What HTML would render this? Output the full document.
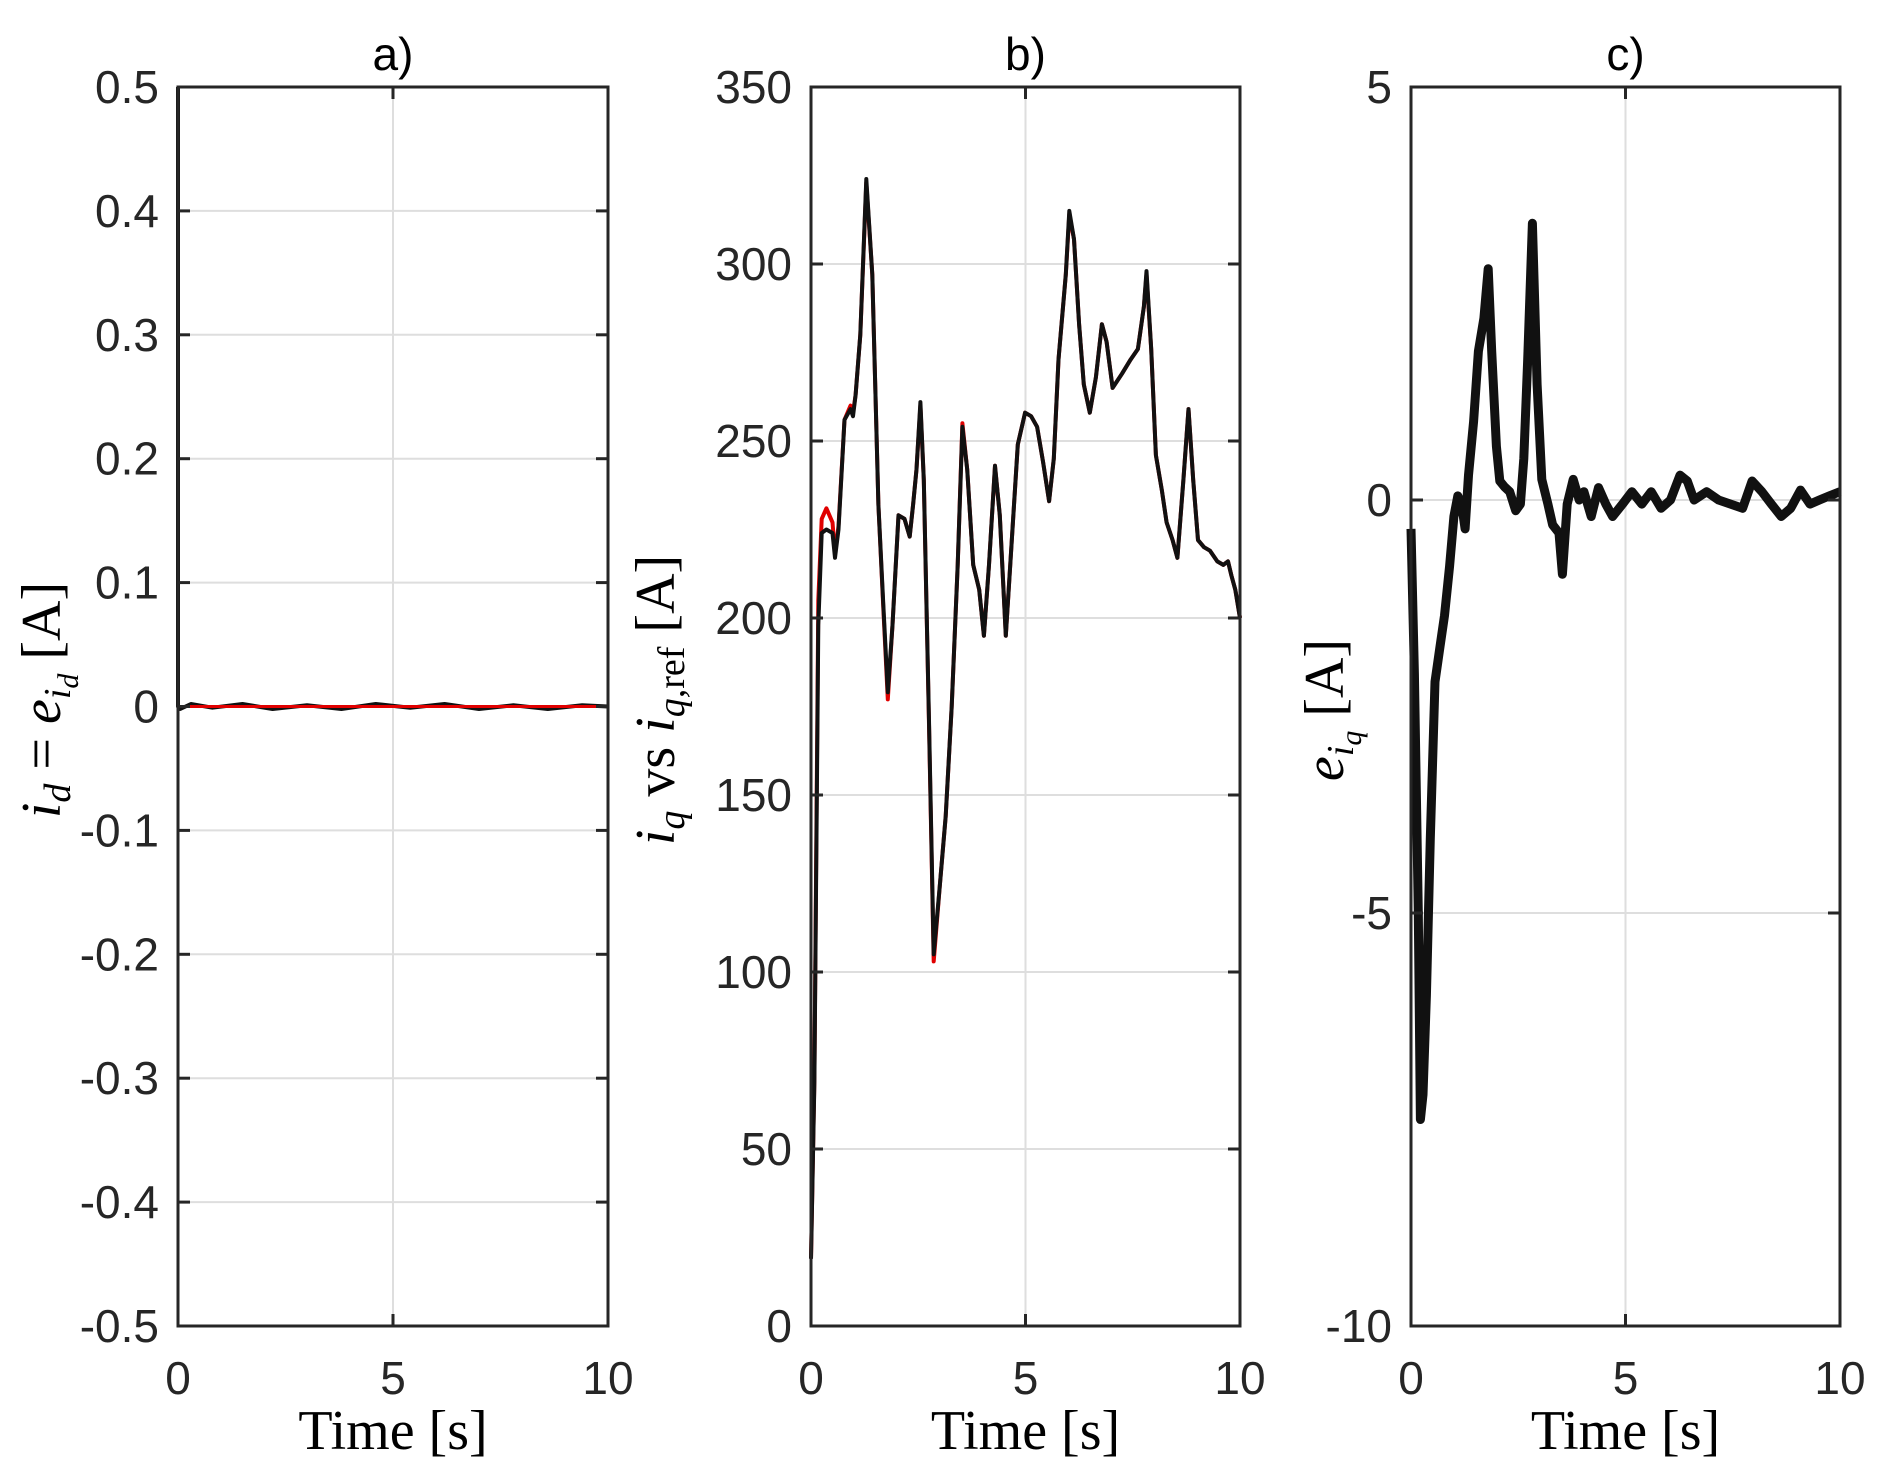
<!DOCTYPE html>
<html><head><meta charset="utf-8"><style>
html,body{margin:0;padding:0;background:#fff;}
svg{display:block;}
.tick{font-family:"Liberation Sans",sans-serif;font-size:46px;fill:#262626;}
.ttl{font-family:"Liberation Sans",sans-serif;font-size:46px;fill:#000;}
.xl{font-family:"Liberation Serif",serif;font-size:56px;fill:#000;}
.yl{font-family:"Liberation Serif",serif;font-size:56px;fill:#000;}
</style></head><body>
<svg id="fig" width="1881" height="1472" viewBox="0 0 1881 1472"></svg>
<script>
// ---- data ----
const bTime=[0,0.08,0.17,0.25,0.36,0.5,0.56,0.64,0.78,0.92,0.98,1.04,1.15,1.29,1.43,1.57,1.68,1.79,1.9,2.04,2.18,2.3,2.38,2.46,2.55,2.63,2.75,2.86,3.0,3.14,3.28,3.42,3.53,3.64,3.78,3.92,4.03,4.15,4.29,4.4,4.54,4.68,4.82,4.99,5.13,5.27,5.41,5.55,5.66,5.77,5.94,6.02,6.13,6.25,6.36,6.5,6.64,6.78,6.89,7.03,7.25,7.45,7.62,7.76,7.82,7.93,8.04,8.18,8.29,8.43,8.54,8.68,8.8,8.91,9.02,9.16,9.3,9.47,9.61,9.72,9.8,9.89,10];
const bIq=[19,69,198,224,225,224,217,225,256,259,257,263,280,324,297,232,205,179,198,229,228,223,232,242,261,239,171,105,124,144,175,215,254,242,215,208,195,215,243,229,195,222,249,258,257,254,244,233,245,273,297,315,307,283,266,258,268,283,278,265,269,273,276,288,298,276,246,236,227,222,217,239,259,239,222,220,219,216,215,216,212,208,200];
const bIqRef=[19,70,205,228,231,227,218,226,256,260,258,263,280,323,297,232,204,177,198,229,228,223,232,242,260,239,170,103,124,144,175,215,255,242,215,208,195,215,243,229,195,222,249,258,257,254,244,233,245,273,297,314,307,283,266,258,268,283,278,265,269,273,276,288,297,276,246,236,227,222,217,239,259,239,222,220,219,216,215,216,212,208,200];
const cTime=[0,0.08,0.17,0.22,0.28,0.36,0.45,0.56,0.67,0.78,0.9,1.0,1.09,1.18,1.26,1.34,1.46,1.57,1.7,1.8,1.88,1.99,2.07,2.18,2.3,2.44,2.55,2.63,2.72,2.83,2.94,3.05,3.19,3.3,3.45,3.53,3.64,3.78,3.92,4.03,4.2,4.37,4.54,4.7,4.93,5.15,5.38,5.6,5.83,6.05,6.27,6.44,6.6,6.89,7.17,7.45,7.73,7.95,8.18,8.4,8.63,8.85,9.08,9.3,9.52,9.75,10];
const cErr=[-0.35,-2.1,-5,-7.5,-7.2,-6,-4.1,-2.2,-1.8,-1.4,-0.8,-0.2,0.05,-0.05,-0.35,0.3,0.95,1.8,2.2,2.8,1.8,0.65,0.23,0.16,0.1,-0.13,-0.05,0.5,1.7,3.35,1.4,0.25,-0.05,-0.3,-0.4,-0.9,-0.05,0.25,0,0.1,-0.2,0.15,-0.05,-0.2,-0.05,0.1,-0.05,0.1,-0.1,0,0.3,0.23,0,0.1,0,-0.05,-0.1,0.23,0.1,-0.05,-0.2,-0.1,0.12,-0.05,0,0.05,0.1];
const aTime=[0,0,0.05,0.3,0.8,1.5,2.2,3,3.8,4.6,5.4,6.2,7,7.8,8.6,9.4,10];
const aId=[0.5,0,-0.002,0.002,-0.001,0.002,-0.002,0.001,-0.002,0.002,-0.001,0.002,-0.002,0.001,-0.002,0.001,0];
const aRefTime=[0,10];
const aRef=[0,0];
const xTicks=[0,5,10];
const aYTicks=[-0.5,-0.4,-0.3,-0.2,-0.1,0,0.1,0.2,0.3,0.4,0.5];
const aYLabels=["-0.5","-0.4","-0.3","-0.2","-0.1","0","0.1","0.2","0.3","0.4","0.5"];
const bYTicks=[0,50,100,150,200,250,300,350];
const cYTicks=[-10,-5,0,5];

const NS="http://www.w3.org/2000/svg";
const svg=document.getElementById('fig');
function mk(tag,attrs,parent){const e=document.createElementNS(NS,tag);for(const k in attrs)e.setAttribute(k,attrs[k]);(parent||svg).appendChild(e);return e;}
const T=87,B=1326;
function panel(key,L,R,ymin,ymax,yt,ylab,title,series){
  const g=mk('g',{});
  
  
  const sx=v=>L+(v-0)/(10-0)*(R-L);
  const sy=v=>B-(v-ymin)/(ymax-ymin)*(B-T);
  yt.forEach((v,i)=>{
    const y=sy(v);
    const gl=mk('line',{x1:L,x2:R,y1:y,y2:y,stroke:'#dedede','stroke-width':2},g);
    
    
  });
  xTicks.forEach(v=>{
    const x=sx(v);
    const gl=mk('line',{x1:x,x2:x,y1:T,y2:B,stroke:'#dedede','stroke-width':2},g);
    
    
  });
  series.forEach(s=>{
    const d=s.t.map((t,i)=>(i?'L':'M')+sx(t).toFixed(1)+' '+sy(s.v[i]).toFixed(1)).join(' ');
    const p=mk('path',{d:d,fill:'none',stroke:s.c,'stroke-width':s.w,'stroke-linejoin':'round'},g);
    
    
  });
  const box=mk('rect',{x:L,y:T,width:R-L,height:B-T,fill:'none',stroke:'#262626','stroke-width':3},g);
  
  
  yt.forEach((v,i)=>{
    const y=sy(v);
    mk('line',{x1:L,x2:L+12,y1:y,y2:y,stroke:'#262626','stroke-width':3},g);
    mk('line',{x1:R,x2:R-12,y1:y,y2:y,stroke:'#262626','stroke-width':3},g);
    const lbl=key==='a'?aYLabels[i]:String(v);
    const t=mk('text',{x:L-19,y:y+16,'text-anchor':'end',class:'tick'},g);
    t.textContent=lbl;
    
    
  });
  xTicks.forEach(v=>{
    const x=sx(v);
    mk('line',{x1:x,x2:x,y1:B,y2:B-12,stroke:'#262626','stroke-width':3},g);
    mk('line',{x1:x,x2:x,y1:T,y2:T+12,stroke:'#262626','stroke-width':3},g);
    const t=mk('text',{x:x,y:1394,'text-anchor':'middle',class:'tick'},g);
    t.textContent=String(v);
    
    
  });
  const xl=mk('text',{x:(L+R)/2,y:1449,'text-anchor':'middle',class:'xl'},g);
  xl.textContent='Time [s]';
  
  
  const tt=mk('text',{x:(L+R)/2,y:70,'text-anchor':'middle',class:'ttl'},g);
  tt.textContent=title;
  
  
  const yl=mk('text',{transform:'translate('+ylab.x+','+ylab.y+') rotate(-90)','text-anchor':'middle',class:'yl'},g);
  
  
  ylab.parts.forEach(p=>{
    const ts=mk('tspan',{},yl);
    if(p.i)ts.setAttribute('font-style','italic');
    if(p.s)ts.setAttribute('baseline-shift',p.s);
    if(p.f)ts.setAttribute('font-size',p.f);
    ts.textContent=p.t;
  });
}
panel('a',178,608,-0.5,0.5,aYTicks,{x:60,y:700,parts:[{t:'i',i:1},{t:'d',i:1,s:'-10',f:38},{t:' = '},{t:'e',i:1},{t:'i',i:1,s:'-10',f:38},{t:'d',i:1,s:'-18',f:30},{t:' [A]'}]},'a)',
  [{t:aTime,v:aId,c:'#111',w:4,n:'id-line'},{t:aRefTime,v:aRef,c:'#e00000',w:3,n:'id-ref-line'}]);
panel('b',811,1240,0,350,bYTicks,{x:674,y:700,parts:[{t:'i',i:1},{t:'q',i:1,s:'-10',f:38},{t:' vs '},{t:'i',i:1},{t:'q,',i:1,s:'-10',f:38},{t:'ref',s:'-10',f:38},{t:' [A]'}]},'b)',
  [{t:bTime,v:bIqRef,c:'#e00000',w:4,n:'iq-ref-line'},{t:bTime,v:bIq,c:'#111',w:4,n:'iq-line'}]);
panel('c',1411,1840,-10,5,cYTicks,{x:1343,y:710,parts:[{t:'e',i:1},{t:'i',i:1,s:'-10',f:38},{t:'q',i:1,s:'-18',f:30},{t:'  [A]'}]},'c)',
  [{t:cTime,v:cErr,c:'#111',w:9,n:'eiq-line'}]);
</script>
</body></html>
